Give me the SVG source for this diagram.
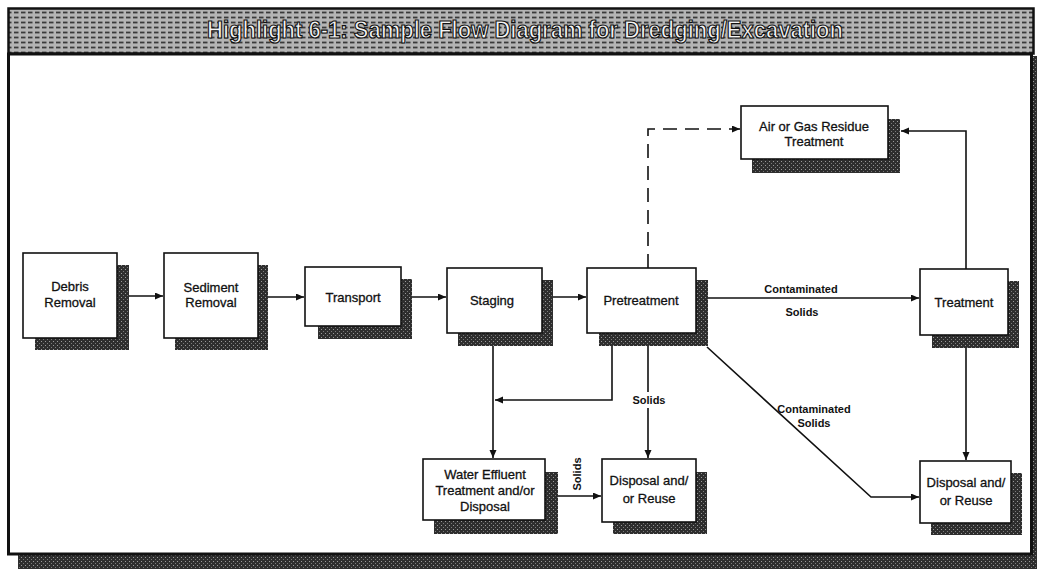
<svg xmlns="http://www.w3.org/2000/svg" width="1037" height="569" viewBox="0 0 1037 569">
  <defs>
    <!-- hatched grey fill used for the title band -->
    <pattern id="hatch" width="7" height="5" patternUnits="userSpaceOnUse">
      <rect width="7" height="5" fill="#b4b4b4"/>
      <path d="M0,2.5 H4.5" stroke="#3a3a3a" stroke-width="1.8"/>
    </pattern>
    <!-- stippled dark fill used for drop shadows -->
    <pattern id="stipple" width="4" height="4" patternUnits="userSpaceOnUse">
      <rect width="4" height="4" fill="#2e2e2e"/>
      <rect x="1" y="1" width="1" height="1" fill="#9a9a9a"/>
      <rect x="3" y="3" width="1" height="1" fill="#7a7a7a"/>
    </pattern>
    <marker id="arrow" markerWidth="9" markerHeight="8" refX="8" refY="3.5" orient="auto" markerUnits="userSpaceOnUse">
      <path d="M0,0 L8,3.5 L0,7 z" fill="#111"/>
    </marker>
    <style>
      .box { fill: #fff; stroke: #111; stroke-width: 1.6; }
      .shadow { fill: url(#stipple); }
      .title { font-family: "Liberation Sans", Arial, sans-serif; font-size: 24px; font-weight: bold; fill: #f4f4f4; stroke: #111; stroke-width: 1.2px; text-anchor: middle; }
      .label { font-family: "Liberation Sans", Arial, sans-serif; font-size: 13px; fill: #111; stroke: #111; stroke-width: 0.3px; text-anchor: middle; }
      .edge-label { font-family: "Liberation Sans", Arial, sans-serif; font-size: 11px; font-weight: bold; fill: #111; text-anchor: middle; }
      .wire { fill: none; stroke: #111; stroke-width: 1.6; }
      .dashed { stroke-dasharray: 14 8; }
    </style>
  </defs>

  <rect width="1037" height="569" fill="#fff"/>

  <!-- frame: title band, content panel and its shadow -->
  <g id="frame">
    <rect x="18" y="555" width="1019" height="14" fill="url(#stipple)"/>
    <rect x="1030" y="56" width="7" height="513" fill="url(#stipple)"/>
    <rect x="8.5" y="54" width="1023" height="500" fill="#fff" stroke="#111" stroke-width="3"/>
    <rect x="8.5" y="8.5" width="1025" height="45" fill="url(#hatch)" stroke="#111" stroke-width="2.5"/>
    <text class="title" x="525" y="38" textLength="636" lengthAdjust="spacingAndGlyphs">Highlight 6-1: Sample Flow Diagram for Dredging/Excavation</text>
  </g>

  <!-- connectors -->
  <g id="connectors">
    <path class="wire" d="M129,296 H163" marker-end="url(#arrow)"/>
    <path class="wire" d="M268,297 H304" marker-end="url(#arrow)"/>
    <path class="wire" d="M412,297 H446" marker-end="url(#arrow)"/>
    <path class="wire" d="M553,297 H586" marker-end="url(#arrow)"/>
    <path class="wire" d="M708,298 H919" marker-end="url(#arrow)"/>
    <path class="wire dashed" d="M648,268 V129 H740" marker-end="url(#arrow)"/>
    <path class="wire" d="M966,269 V131 H901" marker-end="url(#arrow)"/>
    <path class="wire" d="M966,348 V460" marker-end="url(#arrow)"/>
    <path class="wire" d="M707,347 L871,497 H919" marker-end="url(#arrow)"/>
    <path class="wire" d="M648,346 V392 M648,408 V458" marker-end="url(#arrow)"/>
    <path class="wire" d="M612,346 V400 H495" marker-end="url(#arrow)"/>
    <path class="wire" d="M493,346 V458" marker-end="url(#arrow)"/>
    <path class="wire" d="M558,496 H601" marker-end="url(#arrow)"/>

    <text class="edge-label" x="801" y="293">Contaminated</text>
    <text class="edge-label" x="802" y="316">Solids</text>
    <text class="edge-label" x="649" y="404">Solids</text>
    <text class="edge-label" x="814" y="413">Contaminated</text>
    <text class="edge-label" x="814" y="427">Solids</text>
    <text class="edge-label" transform="translate(581,474) rotate(-90)">Solids</text>
  </g>

  <g id="debris-removal">
    <rect class="shadow" x="35" y="265" width="94" height="85"/>
    <rect class="box" x="23" y="253" width="94" height="85"/>
    <text class="label" x="70" y="291">Debris</text>
    <text class="label" x="70" y="307">Removal</text>
  </g>

  <g id="sediment-removal">
    <rect class="shadow" x="175" y="265" width="93" height="85"/>
    <rect class="box" x="164" y="253" width="94" height="85"/>
    <text class="label" x="211" y="292">Sediment</text>
    <text class="label" x="211" y="307">Removal</text>
  </g>

  <g id="transport">
    <rect class="shadow" x="318" y="279" width="94" height="60"/>
    <rect class="box" x="305" y="267" width="96" height="59"/>
    <text class="label" x="353" y="302">Transport</text>
  </g>

  <g id="staging">
    <rect class="shadow" x="458" y="280" width="95" height="66"/>
    <rect class="box" x="447" y="268" width="95" height="65"/>
    <text class="label" x="492" y="305">Staging</text>
  </g>

  <g id="pretreatment">
    <rect class="shadow" x="599" y="280" width="109" height="66"/>
    <rect class="box" x="587" y="268" width="109" height="65"/>
    <text class="label" x="641" y="305">Pretreatment</text>
  </g>

  <g id="treatment">
    <rect class="shadow" x="932" y="281" width="87" height="67"/>
    <rect class="box" x="920" y="269" width="88" height="66"/>
    <text class="label" x="964" y="307">Treatment</text>
  </g>

  <g id="air-gas-residue-treatment">
    <rect class="shadow" x="752" y="119" width="148" height="54"/>
    <rect class="box" x="741" y="106" width="147" height="53"/>
    <text class="label" x="814" y="131">Air or Gas Residue</text>
    <text class="label" x="814" y="146">Treatment</text>
  </g>

  <g id="water-effluent-treatment">
    <rect class="shadow" x="434" y="472" width="124" height="62"/>
    <rect class="box" x="423" y="459" width="122" height="61"/>
    <text class="label" x="485" y="479">Water Effluent</text>
    <text class="label" x="485" y="495">Treatment and/or</text>
    <text class="label" x="485" y="511">Disposal</text>
  </g>

  <g id="disposal-reuse-middle">
    <rect class="shadow" x="613" y="472" width="94" height="62"/>
    <rect class="box" x="602" y="459" width="94" height="63"/>
    <text class="label" x="649" y="485">Disposal and/</text>
    <text class="label" x="649" y="503">or Reuse</text>
  </g>

  <g id="disposal-reuse-right">
    <rect class="shadow" x="931" y="473" width="91" height="62"/>
    <rect class="box" x="920" y="461" width="91" height="62"/>
    <text class="label" x="966" y="487">Disposal and/</text>
    <text class="label" x="966" y="505">or Reuse</text>
  </g>
</svg>
